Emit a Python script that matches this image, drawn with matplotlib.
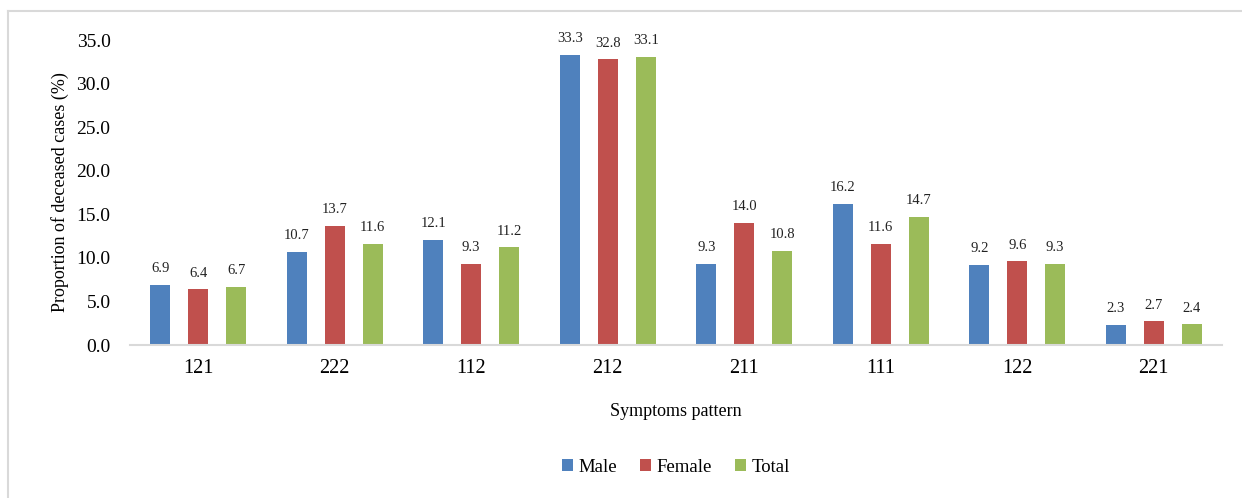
import numpy as np
import matplotlib.pyplot as plt
from matplotlib.lines import Line2D

patterns = ["121", "222", "112", "212", "211", "111", "122", "221"]
male = [6.9, 10.7, 12.1, 33.3, 9.3, 16.2, 9.2, 2.3]
female = [6.4, 13.7, 9.3, 32.8, 14.0, 11.6, 9.6, 2.7]
total = [6.7, 11.6, 11.2, 33.1, 10.8, 14.7, 9.3, 2.4]
series_names = ["Male", "Female", "Total"]
colors = ["#4F81BD", "#C0504D", "#9BBB59"]

plt.rcParams['font.family'] = ['Liberation Serif', 'DejaVu Serif']

fig = plt.figure(figsize=(12.42, 4.98), dpi=100)
ax = fig.add_axes([130 / 1242, 1 - 345 / 498, (1222 - 130) / 1242, (345 - 40) / 498])

x = np.arange(len(patterns))
width = 0.146
step = 0.278
for i, (vals, name, col) in enumerate(zip([male, female, total], series_names, colors)):
    pos = x + (i - 1) * step
    ax.bar(pos, vals, width, color=col, label=name)
    for p, v in zip(pos, vals):
        ax.text(p, v + 1.1, f"{v:.1f}", ha='center', va='bottom', fontsize=10.5, color='#222222')

ax.set_xlim(-0.5, len(patterns) - 0.5)
ax.set_ylim(0, 35)
ax.set_yticks(np.arange(0, 36, 5))
ax.set_yticklabels([f"{t:.1f}" for t in np.arange(0, 36, 5)], fontsize=14)
ax.set_xticks(x)
ax.set_xticklabels(patterns, fontsize=14.5)
ax.tick_params(axis='both', length=0)
ax.tick_params(axis='y', pad=14)
ax.tick_params(axis='x', pad=10)
for s in ['top', 'right', 'left']:
    ax.spines[s].set_visible(False)
ax.spines['bottom'].set_color('#D9D9D9')
ax.spines['bottom'].set_linewidth(1.5)

ax.set_xlabel("Symptoms pattern", fontsize=13, labelpad=18)
ax.set_ylabel("Proportion of deceased cases (%)", fontsize=13, labelpad=5)

ax.legend(loc='center', bbox_to_anchor=(0.5, -0.4), ncol=3, frameon=False,
          fontsize=13.5, handlelength=0.6, handleheight=0.6, handletextpad=0.3,
          columnspacing=1.2)

fig.add_artist(Line2D([8 / 1242, 8 / 1242], [0, 1 - 11 / 498], color='#D9D9D9', lw=1.5))
fig.add_artist(Line2D([8 / 1242, 1], [1 - 11 / 498, 1 - 11 / 498], color='#D9D9D9', lw=1.5))

fig.savefig("out.png", dpi=100)
